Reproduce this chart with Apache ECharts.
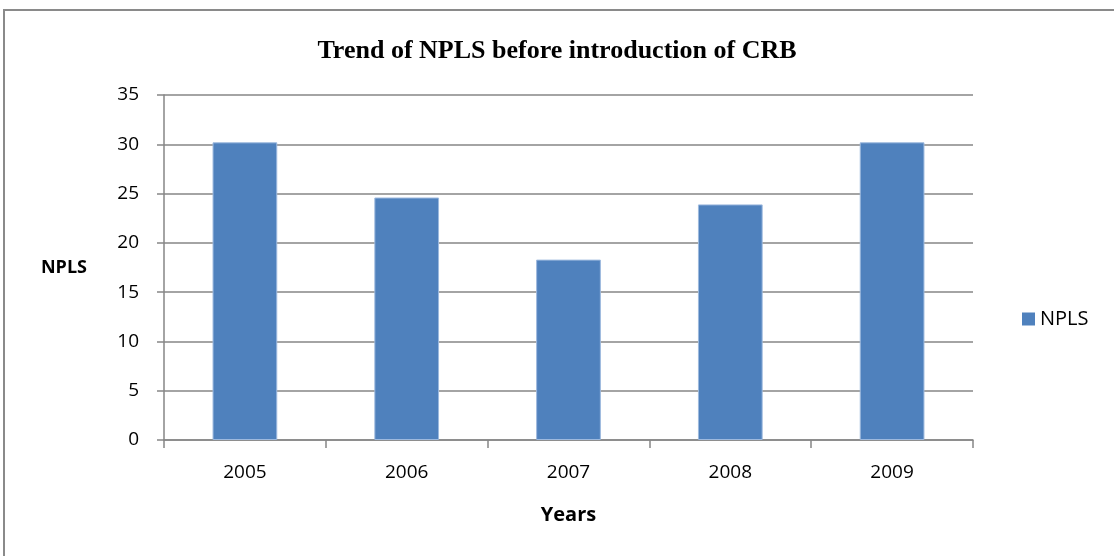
<!DOCTYPE html>
<html>
<head>
<meta charset="utf-8">
<script src="https://cdn.jsdelivr.net/npm/echarts@6/dist/echarts.min.js"></script>
<style>
  html, body { margin: 0; padding: 0; background: #ffffff; }
  #chart { width: 1114px; height: 556px; }
</style>
</head>
<body>
<div id="chart"></div>
<script>
// Non-performing loans by year
const years = ['2005', '2006', '2007', '2008', '2009'];
const nplsValues = [30.2, 24.6, 18.3, 23.9, 30.2];
const yTicks = { min: 0, max: 35, interval: 5 };

const gridGray = '#868686';
const labelFont = '"Open Sans", "Noto Sans", sans-serif';

const chart = echarts.init(document.getElementById('chart'));
chart.setOption({
  animation: false,
  backgroundColor: '#ffffff',
  title: {
    text: 'Trend of NPLS before introduction of CRB',
    left: 'center',
    top: 33,
    textStyle: {
      fontFamily: '"Liberation Serif", "DejaVu Serif", serif',
      fontWeight: 'bold',
      fontSize: 26,
      color: '#000000'
    }
  },
  legend: {
    orient: 'vertical',
    left: 1017,
    top: 304,
    itemWidth: 13,
    itemHeight: 13,
    icon: 'rect',
    itemStyle: { borderWidth: 0 },
    textStyle: { fontFamily: labelFont, fontSize: 20, color: '#000000' },
    data: ['NPLS']
  },
  grid: { left: 164, right: 141, top: 95, bottom: 116, containLabel: false },
  xAxis: {
    type: 'category',
    data: years,
    name: 'Years',
    nameLocation: 'middle',
    nameGap: 65,
    nameTextStyle: { fontFamily: labelFont, fontWeight: 'bold', fontSize: 20, color: '#000000' },
    axisLine: { lineStyle: { color: gridGray, width: 1.5 } },
    axisTick: { show: true, length: 8, alignWithLabel: false, lineStyle: { color: gridGray, width: 1.5 } },
    axisLabel: { margin: 23, fontFamily: labelFont, fontSize: 19, color: '#000000' }
  },
  yAxis: {
    type: 'value',
    min: yTicks.min,
    max: yTicks.max,
    interval: yTicks.interval,
    name: 'NPLS',
    nameLocation: 'middle',
    nameRotate: 0,
    nameGap: 77,
    nameTextStyle: { fontFamily: labelFont, fontWeight: 'bold', fontSize: 18, color: '#000000' },
    axisLine: { show: true, lineStyle: { color: gridGray, width: 1.5 } },
    axisTick: { show: true, length: 7, lineStyle: { color: gridGray, width: 1.5 } },
    axisLabel: { margin: 25, fontFamily: labelFont, fontSize: 19, color: '#000000' },
    splitLine: { show: true, lineStyle: { color: gridGray, width: 1.5 } }
  },
  series: [{
    name: 'NPLS',
    type: 'bar',
    data: nplsValues,
    barCategoryGap: '60%',
    itemStyle: { color: '#4F81BD', borderColor: '#9DB9DE', borderWidth: 1 }
  }],
  graphic: [{
    type: 'rect',
    shape: { x: 4, y: 10, width: 1130, height: 560 },
    style: { fill: 'none', stroke: '#8a8a8a', lineWidth: 2 },
    silent: true
  }]
});
</script>
</body>
</html>
